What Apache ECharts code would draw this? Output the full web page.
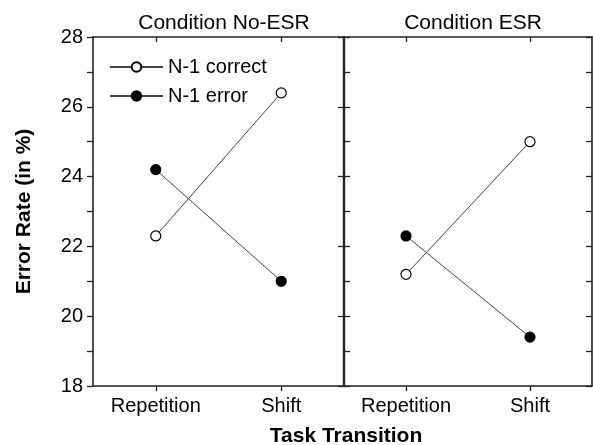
<!DOCTYPE html>
<html>
<head>
<meta charset="utf-8">
<script src="https://cdn.jsdelivr.net/npm/echarts@6/dist/echarts.min.js"></script>
<style>html,body{margin:0;padding:0;background:#fff}#c{width:593px;height:445px}</style>
</head>
<body>
<div id="c"></div>
<script>
var categories = ['Repetition', 'Shift'];
var panelTitles = ['Condition No-ESR', 'Condition ESR'];
var seriesNames = ['N-1 correct', 'N-1 error'];
var noEsrCorrect = [22.3, 26.4];
var noEsrError = [24.2, 21.0];
var esrCorrect = [21.2, 25.0];
var esrError = [22.3, 19.4];
var yMin = 18, yMax = 28;

var FONT = 'Liberation Sans, Arial, sans-serif';
var AX = '#222';
var chart = echarts.init(document.getElementById('c'), null, {renderer: 'canvas'});

function xAx(grid, pos, inside, showLabel) {
  return {
    type: 'category', gridIndex: grid, position: pos, data: categories, boundaryGap: true,
    axisLine: {show: true, onZero: false, lineStyle: {color: AX, width: 1.6}},
    axisTick: {show: true, alignWithLabel: true, inside: inside, length: 5, lineStyle: {color: AX, width: 1.3}},
    axisLabel: {show: showLabel, color: '#000', fontSize: 20, fontFamily: FONT, margin: 10},
    splitLine: {show: false}
  };
}
function yAx(grid, pos, inside, interval, showLabel, lw) {
  return {
    type: 'value', gridIndex: grid, position: pos, min: yMin, max: yMax, interval: interval,
    axisLine: {show: true, onZero: false, lineStyle: {color: AX, width: lw}},
    axisTick: {show: true, inside: inside, length: 6, lineStyle: {color: AX, width: 1.3}},
    axisLabel: {show: showLabel, color: '#000', fontSize: 20, fontFamily: FONT, margin: 10,
      formatter: function (v) { return v % 2 === 0 ? String(v) : ''; }},
    splitLine: {show: false}
  };
}
function ser(name, xi, yi, data, open) {
  return {
    name: name, type: 'line', xAxisIndex: xi, yAxisIndex: yi, data: data,
    symbol: 'circle', symbolSize: 10,
    lineStyle: {color: '#444', width: 1},
    itemStyle: {color: open ? '#fff' : '#000', borderColor: '#000', borderWidth: 1.2},
    z: open ? 3 : 4
  };
}

chart.setOption({
  animation: false,
  backgroundColor: '#fff',
  title: [
    {text: panelTitles[0], left: 219, top: 8, textAlign: 'center', textStyle: {fontSize: 21, fontWeight: 'normal', color: '#000', fontFamily: FONT}},
    {text: panelTitles[1], left: 468, top: 8, textAlign: 'center', textStyle: {fontSize: 21, fontWeight: 'normal', color: '#000', fontFamily: FONT}},
    {text: 'Task Transition', left: 341, top: 421, textAlign: 'center', textStyle: {fontSize: 21, fontWeight: 'bold', color: '#000', fontFamily: FONT}}
  ],
  legend: {
    orient: 'vertical', left: 104, top: 52, itemWidth: 53, itemHeight: 12, itemGap: 9,
    data: seriesNames,
    textStyle: {fontSize: 20, color: '#000', fontFamily: FONT, padding: [0, 0, 0, 0]}
  },
  grid: [
    {left: 93, right: 249, top: 37, bottom: 59},
    {left: 344, right: 1, top: 37, bottom: 59}
  ],
  xAxis: [
    xAx(0, 'bottom', false, true),
    xAx(1, 'bottom', false, true),
    xAx(0, 'top', true, false),
    xAx(1, 'top', true, false)
  ],
  yAxis: [
    Object.assign(yAx(0, 'left', false, 1, true, 1.6), {name: 'Error Rate (in %)', nameLocation: 'middle', nameGap: 58, nameTextStyle: {fontSize: 21, fontWeight: 'bold', color: '#000', fontFamily: FONT}}),
    yAx(1, 'left', true, 1, false, 2.2),
    yAx(0, 'right', true, 2, false, 2.2),
    yAx(1, 'right', true, 1, false, 1.6)
  ],
  series: [
    ser(seriesNames[0], 0, 0, noEsrCorrect, true),
    ser(seriesNames[1], 0, 0, noEsrError, false),
    ser(seriesNames[0], 1, 1, esrCorrect, true),
    ser(seriesNames[1], 1, 1, esrError, false)
  ]
});
</script>
</body>
</html>
